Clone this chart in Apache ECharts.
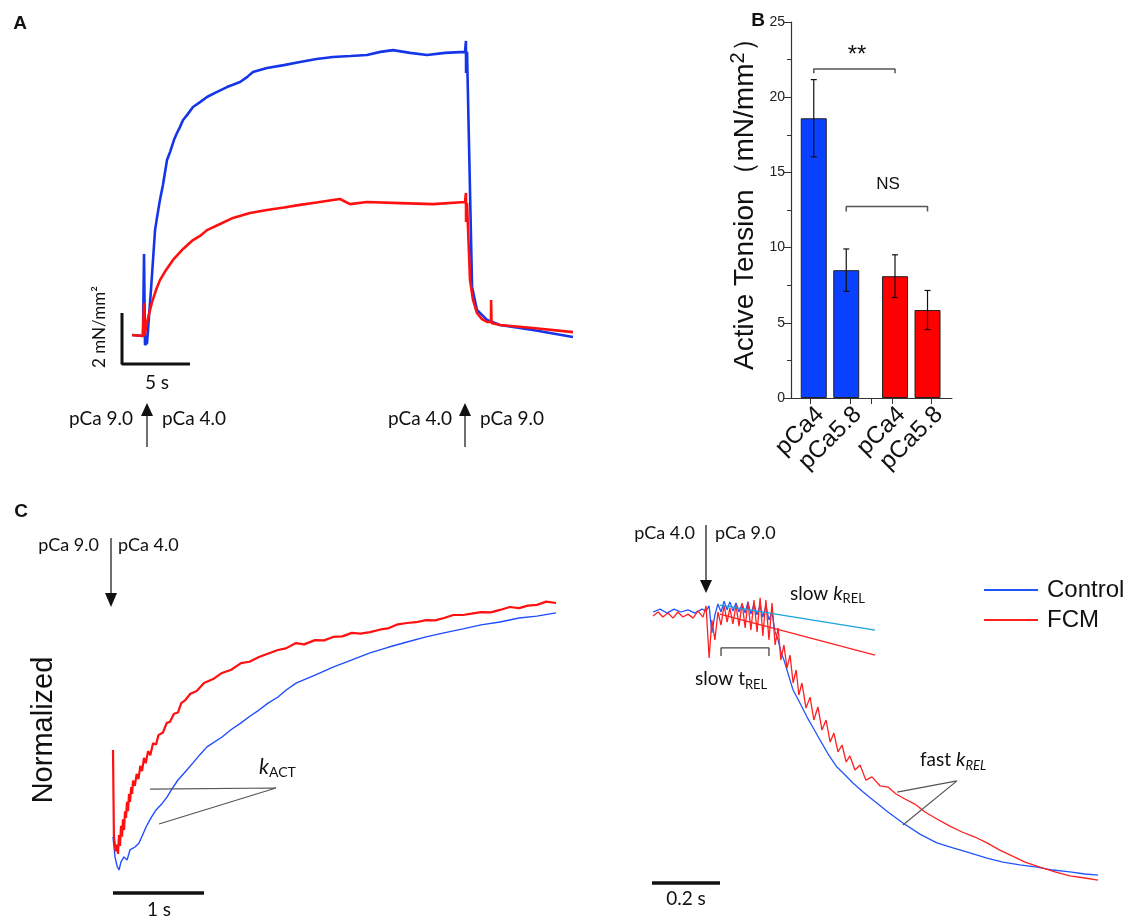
<!DOCTYPE html>
<html>
<head>
<meta charset="utf-8">
<script src="https://cdn.jsdelivr.net/npm/echarts@6/dist/echarts.min.js"></script>
<style>
  html, body { margin: 0; padding: 0; background: #fff; }
  #chart { width: 1129px; height: 920px; }
</style>
</head>
<body>
<div id="chart"></div>
<script>
// Panel A: active tension traces (time in s, tension in mN/mm2)
const aControl = [[0.74,1.14],[1.54,1.10],[1.62,4.31],[1.69,0.75],[1.84,0.82],[2.13,2.90],[2.43,5.25],[2.57,5.73],[2.79,6.43],[3.01,7.02],[3.31,8.00],[3.53,8.31],[3.82,8.78],[4.04,9.06],[4.26,9.29],[4.49,9.57],[4.78,9.76],[5.22,10.08],[5.74,10.27],[6.25,10.47],[6.84,10.63],[7.72,10.86],[8.68,11.06],[9.19,11.25],[9.63,11.45],[10.66,11.61],[11.9,11.72],[13.09,11.84],[14.3,11.96],[15.51,12.04],[16.8,12.08],[18.01,12.12],[19.0,12.24],[19.93,12.31],[21.18,12.20],[22.43,12.12],[23.75,12.20],[25.22,12.24],[25.29,12.67],[25.30,11.41],[25.37,12.24],[25.74,3.02],[26.10,2.12],[26.84,1.73],[27.79,1.53],[30.22,1.33],[33.16,1.06]];
const aFcm = [[0.74,1.14],[1.54,1.10],[1.62,2.39],[1.65,1.10],[1.69,1.10],[1.91,1.80],[2.21,2.43],[2.50,2.90],[2.79,3.29],[3.24,3.69],[3.75,4.08],[4.49,4.51],[5.22,4.86],[5.74,5.02],[6.25,5.25],[7.21,5.49],[8.16,5.73],[9.41,5.92],[10.66,6.04],[11.9,6.14],[13.09,6.24],[14.3,6.33],[15.51,6.43],[16.03,6.47],[16.76,6.27],[18.01,6.35],[20.44,6.31],[22.87,6.27],[25.22,6.35],[25.29,6.71],[25.30,5.57],[25.37,6.31],[25.59,3.29],[25.81,2.51],[26.10,2.00],[26.47,1.76],[26.84,1.65],[27.13,1.65],[27.14,2.51],[27.17,1.61],[27.79,1.53],[30.22,1.41],[33.16,1.25]];

// Panel B: active tension bars
const bLabels = ['pCa4', 'pCa5.8', 'pCa4', 'pCa5.8'];
const bPos = [1, 2, 3.5, 4.5];
const bLabelPos = [1.2, 2.35, 3.7, 4.85];
const bMean = [18.6, 8.5, 8.1, 5.85];
const bErr = [2.57, 1.41, 1.42, 1.3];
const bColors = ['#0a40ff', '#0a40ff', '#ff0000', '#ff0000'];
const bTicks = [0.88, 2.11, 2.78, 3.4, 4.62];

// Panel C left: activation (time in s, normalized %)
const actControl = [[0,12.4],[0.022,4.9],[0.044,1.5],[0.066,0],[0.088,3.0],[0.121,4.9],[0.154,3.7],[0.187,7.5],[0.242,8.6],[0.286,10.1],[0.33,13.5],[0.363,16.1],[0.418,19.5],[0.473,22.5],[0.53,24.5],[0.593,27.3],[0.65,30.5],[0.714,33.7],[0.8,37.0],[0.879,40.1],[0.95,43.0],[1.033,46.1],[1.198,49.8],[1.3,52.6],[1.407,55.1],[1.5,57.5],[1.604,59.9],[1.7,62.4],[1.813,64.8],[1.9,67.3],[2.011,70.0],[2.22,73.0],[2.418,76.0],[2.626,78.7],[2.824,81.3],[3.033,83.5],[3.231,85.4],[3.44,87.3],[3.637,88.8],[3.846,90.3],[4.044,91.8],[4.253,92.9],[4.462,94.4],[4.659,95.1],[4.868,96.3]];
const actFcm = [[0,44.9],[0.01,12.4],[0.03,7.0],[0.044,9.5],[0.055,6.0],[0.066,13.1],[0.077,9.0],[0.088,16.5],[0.099,12.5],[0.11,19.0],[0.121,15.0],[0.132,22.0],[0.143,19.5],[0.154,25.5],[0.165,22.0],[0.176,28.5],[0.187,25.5],[0.2,31.0],[0.21,28.5],[0.22,33.5],[0.24,31.5],[0.26,36.0],[0.28,34.0],[0.3,39.0],[0.32,37.0],[0.34,42.0],[0.36,40.0],[0.385,44.5],[0.41,43.0],[0.44,47.5],[0.473,47.0],[0.5,50.5],[0.549,51.5],[0.59,55.0],[0.626,55.5],[0.67,58.5],[0.714,59.0],[0.75,62.5],[0.791,63.5],[0.85,66.0],[0.92,67.0],[1.0,70.0],[1.1,71.5],[1.198,73.8],[1.3,75.0],[1.407,77.5],[1.5,78.0],[1.604,79.8],[1.7,81.0],[1.813,82.4],[1.9,83.0],[2.011,85.0],[2.1,84.5],[2.22,86.1],[2.32,86.0],[2.418,87.3],[2.52,87.5],[2.626,88.8],[2.72,88.5],[2.824,89.1],[2.93,90.0],[3.033,90.6],[3.13,92.0],[3.231,92.5],[3.33,92.8],[3.44,93.6],[3.54,93.5],[3.637,94.4],[3.74,95.5],[3.846,95.5],[3.94,96.0],[4.044,96.6],[4.15,96.5],[4.253,97.4],[4.36,98.5],[4.462,98.1],[4.56,99.0],[4.659,99.3],[4.76,100.5],[4.868,100.0]];
const kActLines = [[0.407,30.3],[1.791,30.7],[0.505,17.2]];

// Panel C right: relaxation (time in ms, normalized %)
const relControl = [[3,100.0],[24,101.1],[44,99.6],[65,101.1],[85,100.0],[106,100.8],[126,99.6],[147,101.1],[159,100.4],[168,102.3],[176,92.1],[185,98.9],[194,103.0],[203,100.0],[212,104.1],[221,100.8],[229,103.8],[238,100.4],[247,103.4],[256,100.0],[265,103.0],[274,99.6],[282,103.8],[291,99.2],[300,103.0],[309,98.9],[318,102.6],[326,98.1],[335,102.3],[344,97.0],[353,100.0],[362,92.5],[371,89.5],[379,85.0],[388,82.0],[397,78.2],[406,74.4],[415,70.7],[435,65.8],[456,60.5],[476,56.0],[494,51.9],[518,46.6],[544,41.7],[568,38.7],[591,35.7],[621,32.3],[650,29.3],[694,24.8],[738,20.7],[788,16.5],[838,13.2],[885,11.3],[935,9.4],[985,7.5],[1032,6.0],[1082,4.9],[1132,4.1],[1179,3.0],[1229,2.3],[1273,1.5],[1312,1.1]];
const relFcm = [[3,98.5],[18,100.0],[32,98.1],[47,99.6],[62,97.7],[76,100.0],[91,98.1],[106,99.2],[121,97.7],[135,100.4],[150,98.1],[159,102.3],[168,82.7],[176,97.0],[185,89.5],[194,100.0],[203,95.1],[212,102.6],[221,96.2],[229,101.5],[238,95.5],[247,102.6],[256,94.7],[265,103.4],[274,94.0],[282,103.8],[291,93.2],[300,104.5],[309,92.5],[318,105.3],[326,91.0],[335,104.5],[344,89.5],[353,103.4],[362,87.6],[371,94.0],[379,82.0],[388,87.6],[397,78.9],[406,83.8],[415,73.3],[424,78.2],[432,68.8],[441,73.3],[453,63.9],[465,68.0],[476,59.4],[488,64.3],[500,55.6],[512,59.4],[524,51.1],[535,54.5],[547,47.4],[559,50.0],[571,43.6],[582,45.9],[597,40.6],[612,42.5],[629,36.8],[647,38.0],[671,34.6],[694,34.2],[718,31.6],[744,29.7],[773,27.8],[803,24.8],[838,22.2],[876,19.5],[912,17.3],[950,15.4],[985,13.2],[1023,10.5],[1059,8.3],[1097,6.0],[1141,4.1],[1185,2.3],[1229,0.8],[1273,0],[1312,-0.8]];
const slowFitControl = [[200,102.6],[656,93.2]];
const slowFitFcm = [[200,99.2],[656,83.8]];
const slowTBracket = [[203,83.5],[203,86.5],[344,86.5],[344,83.5]];
const fastKLines = [[721,32.3],[897,36.5],[738,19.9]];

const chart = echarts.init(document.getElementById('chart'));
const meas = document.createElement('canvas').getContext('2d');

function trace(name, data, axis, color, width, extra) {
  return Object.assign({
    name: name, type: 'line', data: data,
    xAxisIndex: axis, yAxisIndex: axis,
    showSymbol: false, symbol: 'none', silent: true,
    lineStyle: { color: color, width: width },
    itemStyle: { color: color }
  }, extra || {});
}

function hiddenAxis(grid, min, max) {
  return { type: 'value', gridIndex: grid, min: min, max: max, show: false };
}

function txt(x, y, s, o) {
  o = o || {};
  return {
    type: 'text', x: x, y: y, rotation: o.rot || 0,
    style: {
      text: s, fontSize: o.size || 18, fontFamily: o.family || 'Lato',
      fontStyle: o.italic ? 'italic' : 'normal',
      fontWeight: o.bold ? 'bold' : 'normal',
      fill: o.color || '#111', align: o.align || 'left', verticalAlign: 'middle'
    }
  };
}

// text made of pieces (italic letters, subscripts)
function pieces(x, y, list, family) {
  family = family || 'Lato';
  let cx = x;
  const out = [];
  list.forEach(p => {
    const s = p[0], size = p[1], italic = p[2], dy = p[3] || 0;
    out.push(txt(cx, y + dy, s, { size: size, italic: italic, family: family }));
    meas.font = (italic ? 'italic ' : '') + size + 'px "' + family + '"';
    cx += meas.measureText(s).width;
  });
  return out;
}

function arrow(x, yTail, yTip, head) {
  const dir = yTip < yTail ? -1 : 1;
  return [
    { type: 'line', shape: { x1: x, y1: yTail, x2: x, y2: yTip - dir * head }, style: { stroke: '#222', lineWidth: 1.3 } },
    { type: 'polygon', shape: { points: [[x, yTip], [x - 6, yTip - dir * head], [x + 6, yTip - dir * head]] }, style: { fill: '#111' } }
  ];
}

const errorBars = {
  type: 'custom', xAxisIndex: 1, yAxisIndex: 1, z: 5, silent: true,
  data: bPos.map((p, i) => [p, bMean[i] - bErr[i], bMean[i] + bErr[i]]),
  renderItem: function (params, api) {
    const lo = api.coord([api.value(0), api.value(1)]);
    const hi = api.coord([api.value(0), api.value(2)]);
    const st = { stroke: '#111', lineWidth: 1.2 };
    return {
      type: 'group', children: [
        { type: 'line', shape: { x1: lo[0], y1: lo[1], x2: hi[0], y2: hi[1] }, style: st },
        { type: 'line', shape: { x1: lo[0] - 3, y1: lo[1], x2: lo[0] + 3, y2: lo[1] }, style: st },
        { type: 'line', shape: { x1: hi[0] - 3, y1: hi[1], x2: hi[0] + 3, y2: hi[1] }, style: st }
      ]
    };
  }
};

const black = '#111';
const graphics = [].concat(
  [txt(20, 24, 'A', { size: 19, bold: true, family: 'Liberation Sans', align: 'center' }),
   txt(758, 21, 'B', { size: 19, bold: true, family: 'Liberation Sans', align: 'center' }),
   txt(21, 512, 'C', { size: 19, bold: true, family: 'Liberation Sans', align: 'center' })],
  // panel A
  [txt(100, 327, '2 mN/mm²', { size: 17, rot: Math.PI / 2, align: 'center' }),
   txt(157, 383, '5 s', { size: 19, align: 'center' }),
   txt(133, 419, 'pCa 9.0', { size: 19, align: 'right' }),
   txt(162, 419, 'pCa 4.0', { size: 19 }),
   txt(452, 419, 'pCa 4.0', { size: 19, align: 'right' }),
   txt(480, 419, 'pCa 9.0', { size: 19 })],
  arrow(147, 447, 403, 13),
  arrow(465, 447, 403, 13),
  // panel B
  [txt(857, 55, '**', { size: 24, family: 'Liberation Sans', align: 'center' }),
   txt(888, 184, 'NS', { size: 17, family: 'Liberation Sans', align: 'center' }),
   { type: 'group', x: 745, y: 370, rotation: Math.PI / 2,
     children: pieces(0, 0, [['Active Tension（mN/mm', 28], ['2', 20, false, -7], ['）', 28]], 'Liberation Sans') }],
  // panel C left
  [txt(99, 545, 'pCa 9.0', { size: 18, align: 'right' }),
   txt(118, 545, 'pCa 4.0', { size: 18 }),
   txt(44, 730, 'Normalized', { size: 29, family: 'Liberation Sans', rot: Math.PI / 2, align: 'center' }),
   txt(159, 910, '1 s', { size: 19, align: 'center' })],
  arrow(111, 538, 607, 14),
  pieces(259, 767, [['k', 21, true], ['ACT', 14, false, 5]]),
  // panel C right
  [txt(695, 533, 'pCa 4.0', { size: 18, align: 'right' }),
   txt(715, 533, 'pCa 9.0', { size: 18 }),
   txt(686, 899, '0.2 s', { size: 19, align: 'center' })],
  arrow(706, 525, 593, 13),
  pieces(790, 594, [['slow ', 19], ['k', 20, true], ['REL', 13, false, 5]]),
  pieces(695, 679, [['slow t', 19], ['REL', 13, false, 6]]),
  pieces(920, 760, [['fast ', 19], ['k', 20, true], ['REL', 13, true, 6]])
);

const option = {
  animation: false,
  backgroundColor: '#fff',
  grid: [
    { left: 122, top: 32.5, width: 476, height: 331.5 },
    { left: 791, top: 22, width: 160.9, height: 376 },
    { left: 113, top: 576.3, width: 455, height: 325.7 },
    { left: 652, top: 558.8, width: 448.8, height: 345.8 }
  ],
  xAxis: [
    hiddenAxis(0, 0, 35),
    {
      type: 'value', gridIndex: 1, min: 0.3, max: 5.25,
      splitLine: { show: false },
      axisLine: { lineStyle: { color: '#333', width: 1.2 } },
      axisTick: { customValues: bTicks, length: 6, lineStyle: { color: '#333' } },
      axisLabel: {
        customValues: bLabelPos, rotate: 45, margin: 13, fontSize: 24,
        fontFamily: 'Liberation Sans', color: '#111',
        formatter: v => bLabels[bLabelPos.indexOf(v)]
      }
    },
    hiddenAxis(2, 0, 5),
    hiddenAxis(3, 0, 1320)
  ],
  yAxis: [
    hiddenAxis(0, 0, 13),
    {
      type: 'value', gridIndex: 1, min: 0, max: 25, interval: 5,
      splitLine: { show: false },
      axisLine: { show: true, lineStyle: { color: '#333', width: 1.2 } },
      axisTick: { show: true, length: 7, lineStyle: { color: '#333' } },
      minorTick: { show: true, splitNumber: 2, length: 4, lineStyle: { color: '#333' } },
      axisLabel: { fontSize: 14, fontFamily: 'Liberation Sans', color: '#222', margin: 6 }
    },
    hiddenAxis(2, -12, 110),
    hiddenAxis(3, -10, 120)
  ],
  legend: {
    data: ['Control', 'FCM'], orient: 'vertical', left: 984, top: 577, padding: 0,
    icon: 'rect', itemWidth: 54, itemHeight: 2, itemGap: 4, selectedMode: false,
    textStyle: { fontSize: 24, fontFamily: 'Liberation Sans', color: '#111', lineHeight: 26, padding: [0, 0, 0, 4] }
  },
  graphic: graphics,
  series: [
    // A
    trace('Control A', aControl, 0, '#1536e8', 2.6),
    trace('FCM A', aFcm, 0, '#ff1010', 2.6),
    trace('scale A', [[0, 2], [0, 0], [5, 0]], 0, black, 3, { clip: false }),
    // B
    {
      type: 'bar', xAxisIndex: 1, yAxisIndex: 1, barWidth: 26, silent: true,
      data: bPos.map((p, i) => ({ value: [p, bMean[i]], itemStyle: { color: bColors[i] } })),
      itemStyle: { borderColor: '#222', borderWidth: 1 }
    },
    errorBars,
    trace('sig', [[1, 21.6], [1, 21.87], [3.5, 21.87], [3.5, 21.6]], 1, '#555', 1.5),
    trace('ns', [[2, 12.4], [2, 12.73], [4.5, 12.73], [4.5, 12.4]], 1, '#555', 1.5),
    // C left
    trace('Control act', actControl, 2, '#1f4cff', 1.4),
    trace('FCM act', actFcm, 2, '#ff1010', 2.2),
    trace('kact', kActLines, 2, '#555', 1.2),
    trace('scale C1', [[0, -8.6], [1, -8.6]], 2, black, 3.5, { clip: false }),
    // C right
    trace('Control', relControl, 3, '#2355ff', 1.3),
    trace('FCM', relFcm, 3, '#ff2020', 1.3),
    trace('slow fit control', slowFitControl, 3, '#1aa3dc', 1.4),
    trace('slow fit fcm', slowFitFcm, 3, '#ff2020', 1.2),
    trace('slow t', slowTBracket, 3, '#444', 1.3),
    trace('fast k', fastKLines, 3, '#555', 1.2),
    trace('scale C2', [[0, -1.9], [200, -1.9]], 3, black, 3.5, { clip: false })
  ]
};

chart.setOption(option);
window.addEventListener('resize', () => chart.resize());
</script>
</body>
</html>
